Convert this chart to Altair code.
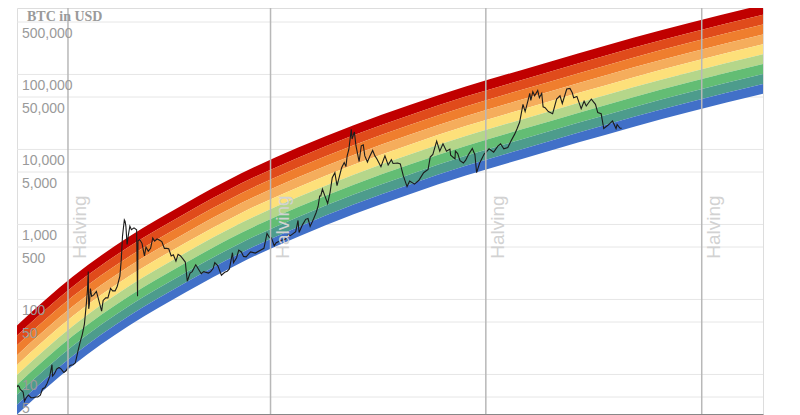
import altair as alt
import pandas as pd

# ---------------- data ----------------
btc_dates = [
    "2012-01-01", "2012-01-08", "2012-01-15", "2012-01-22", "2012-02-01", "2012-02-10", "2012-02-19",
    "2012-03-01", "2012-03-15", "2012-04-01", "2012-04-15", "2012-05-01", "2012-05-15", "2012-06-01",
    "2012-06-15", "2012-07-01", "2012-07-15", "2012-08-01", "2012-08-16", "2012-08-19", "2012-09-01",
    "2012-09-15", "2012-10-01", "2012-10-15", "2012-11-01", "2012-11-15", "2012-12-01", "2012-12-15",
    "2013-01-01", "2013-01-15", "2013-02-01", "2013-02-15", "2013-03-01", "2013-03-15", "2013-03-28",
    "2013-04-04", "2013-04-09", "2013-04-12", "2013-04-16", "2013-04-23", "2013-05-01", "2013-05-15",
    "2013-06-01", "2013-06-15", "2013-07-05", "2013-07-15", "2013-08-01", "2013-08-15", "2013-09-01",
    "2013-09-15", "2013-10-01", "2013-10-15", "2013-11-01", "2013-11-10", "2013-11-18", "2013-11-30",
    "2013-12-05", "2013-12-10", "2013-12-18", "2013-12-25",
    "2014-01-05", "2014-01-15", "2014-02-01", "2014-02-18", "2014-02-24", "2014-02-27", "2014-03-10",
    "2014-03-25", "2014-04-10", "2014-04-20", "2014-05-05", "2014-05-20", "2014-06-03", "2014-06-15",
    "2014-07-01", "2014-07-15", "2014-08-01", "2014-08-18", "2014-09-01", "2014-09-15", "2014-10-01",
    "2014-10-15", "2014-11-01", "2014-11-15", "2014-12-01", "2014-12-15",
    "2015-01-01", "2015-01-14", "2015-02-01", "2015-02-15", "2015-03-10", "2015-04-01", "2015-04-15",
    "2015-05-01", "2015-06-01", "2015-06-15", "2015-07-01", "2015-07-12", "2015-08-01", "2015-08-24",
    "2015-09-15", "2015-10-01", "2015-10-15", "2015-11-04", "2015-11-11", "2015-12-01", "2015-12-15",
    "2016-01-01", "2016-01-15", "2016-02-01", "2016-03-01", "2016-04-01", "2016-05-01", "2016-05-27",
    "2016-06-16", "2016-07-01", "2016-07-15", "2016-08-02", "2016-08-15", "2016-09-15", "2016-10-15",
    "2016-11-01", "2016-11-15", "2016-12-01", "2016-12-20",
    "2017-01-04", "2017-01-11", "2017-02-01", "2017-02-23", "2017-03-10", "2017-03-24", "2017-04-15",
    "2017-05-01", "2017-05-15", "2017-05-25", "2017-06-01", "2017-06-12", "2017-06-25", "2017-07-16",
    "2017-08-01", "2017-08-15", "2017-09-01", "2017-09-15", "2017-10-01", "2017-10-15", "2017-11-01",
    "2017-11-12", "2017-11-20", "2017-12-01", "2017-12-17", "2017-12-22",
    "2018-01-06", "2018-01-16", "2018-02-06", "2018-02-20", "2018-03-05", "2018-03-15", "2018-04-01",
    "2018-04-15", "2018-05-05", "2018-05-20", "2018-06-01", "2018-06-28", "2018-07-24", "2018-08-14",
    "2018-09-04", "2018-09-15", "2018-10-15", "2018-11-01", "2018-11-20", "2018-12-15",
    "2019-01-01", "2019-02-01", "2019-03-01", "2019-04-02", "2019-05-01", "2019-05-15", "2019-06-01",
    "2019-06-26", "2019-07-16", "2019-08-06", "2019-08-29", "2019-09-20", "2019-09-25", "2019-10-23",
    "2019-10-26", "2019-11-10", "2019-11-25", "2019-12-17",
    "2020-01-01", "2020-01-20", "2020-02-13", "2020-03-01", "2020-03-12", "2020-04-01", "2020-04-30",
    "2020-05-15", "2020-06-01", "2020-07-01", "2020-07-27", "2020-08-15", "2020-09-05", "2020-10-01",
    "2020-10-21", "2020-11-15", "2020-12-01", "2020-12-17",
    "2021-01-08", "2021-01-22", "2021-02-10", "2021-02-21", "2021-02-28", "2021-03-13", "2021-03-25",
    "2021-04-14", "2021-04-25", "2021-05-10", "2021-05-19", "2021-06-01", "2021-06-22", "2021-07-20",
    "2021-08-15", "2021-09-06", "2021-09-21", "2021-10-20", "2021-11-10", "2021-11-25", "2021-12-04",
    "2021-12-25",
    "2022-01-22", "2022-02-10", "2022-02-24", "2022-03-29", "2022-04-25", "2022-05-10", "2022-06-01",
    "2022-06-18", "2022-07-15", "2022-08-14", "2022-09-06", "2022-09-13", "2022-10-01", "2022-10-12",
]
btc_prices = [
    6.8, 7.1, 6.9, 6.3, 6.1, 5.8, 4.4,
    4.9, 5.3, 4.9, 4.9, 5.0, 5.0, 5.3,
    6.4, 6.7, 7.6, 9.4, 13.5, 9.5, 10.2,
    11.8, 12.4, 11.8, 10.6, 11.2, 12.6, 13.3,
    13.5, 14.3, 20.4, 27, 34, 47, 90,
    135, 235, 75, 85, 140, 110, 115,
    128, 100, 70, 97, 105, 105, 140,
    130, 130, 150, 205, 340, 700, 1150,
    1100, 950, 540, 700,
    950, 850, 900, 850, 110, 600, 630,
    560, 380, 500, 440, 480, 660, 600,
    640, 620, 590, 480, 480, 475, 380,
    395, 325, 400, 380, 350,
    315, 175, 225, 235, 290, 245, 220,
    235, 225, 235, 258, 310, 280, 210,
    230, 238, 255, 420, 310, 360, 455,
    430, 375, 370, 430, 415, 450, 480,
    760, 675, 660, 520, 570, 610, 640,
    730, 710, 750, 800,
    1130, 780, 980, 1170, 1200, 940, 1180,
    1420, 1750, 2400, 2400, 2950, 2500, 1900,
    2700, 4200, 4900, 3300, 4400, 5700, 6700,
    5900, 8200, 10000, 18500, 13800,
    17100, 11300, 6900, 11200, 11500, 8200, 6800,
    8000, 9700, 8200, 7500, 5900, 8200, 6200,
    7300, 6500, 6600, 6400, 4500, 3200,
    3800, 3450, 3850, 4900, 5400, 7900, 8600,
    12900, 9500, 11900, 9500, 10100, 8400, 7500,
    9500, 8800, 7100, 6600,
    7200, 8600, 10300, 8500, 4900, 6600, 8700,
    9300, 10200, 9200, 11000, 11900, 10200, 10600,
    12900, 16000, 19000, 23000,
    40000, 32000, 45000, 56000, 45000, 59000, 52000,
    61000, 49000, 56000, 37000, 36000, 32000, 30000,
    47000, 52000, 41000, 64000, 65000, 57000, 49000,
    51000,
    35000, 44000, 38000, 47000, 40000, 31000, 30000,
    19000, 21000, 24000, 19000, 21500, 19300, 19100,
]

halving_dates = ["2012-11-28", "2016-07-09", "2020-05-11", "2024-03-17"]

# top edge of the rainbow (USD) read at these dates
rainbow_dates = ["2012-01-01", "2013-01-01", "2014-01-01", "2015-01-01", "2016-01-01",
                 "2017-01-01", "2018-01-01", "2019-01-01", "2020-01-01", "2021-01-01",
                 "2022-01-01", "2023-01-01", "2024-01-01", "2025-04-20"]
rainbow_top = [45, 204, 690, 1900, 4800, 10500, 21000, 39000, 69000, 115000,
               190000, 310000, 490000, 850000]
# ratio between the top edge and each band boundary (top to bottom)
band_edges = [1, 1.36, 1.84, 2.49, 3.37, 4.57, 6.19, 8.39, 11.4, 15.4]
band_colors = ["#c00000", "#e04b1b", "#ef7e2e", "#f5ad5c", "#fde07a",
               "#b5d68a", "#63bd74", "#4d9c8c", "#4170c8"]

tick_values = [5, 10, 50, 100, 500, 1000, 5000, 10000, 50000, 100000, 500000]

# ---------------- tables ----------------
btc_df = pd.DataFrame({"date": btc_dates, "price": btc_prices})
halv_df = pd.DataFrame({"date": halving_dates})
grid_df = pd.DataFrame({"v": tick_values})
band_names = [f"b{i}" for i in range(len(band_colors))]
rows = []
for i, name in enumerate(band_names):
    for d, top in zip(rainbow_dates, rainbow_top):
        rows.append({"date": d, "band": name, "hi": top / band_edges[i], "lo": top / band_edges[i + 1]})
rb_df = pd.DataFrame(rows)
title_df = pd.DataFrame({"t": ["BTC in USD"]})

W, H = 746, 406
x_scale = alt.Scale(domain=[alt.DateTime(year=2012, month=1, date=1, utc=True),
                            alt.DateTime(year=2025, month=4, date=20, utc=True)])
y_scale = alt.Scale(type="log", domain=[2.97, 769000])

grid = alt.Chart(grid_df).mark_rule(color="#e6e6e6", strokeWidth=1).encode(
    y=alt.Y("v:Q", scale=y_scale, axis=None),
)

labels = alt.Chart(grid_df).mark_text(
    align="left", baseline="alphabetic", dy=16, fontSize=14, font="Liberation Sans",
    color="#9a9a9a",
).encode(
    y=alt.Y("v:Q", scale=y_scale, axis=None),
    x=alt.value(5),
    text=alt.Text("v:Q", format=",d"),
)

rainbow = alt.Chart(rb_df).mark_area(interpolate="monotone", clip=True).encode(
    x=alt.X("date:T", scale=x_scale,
            axis=alt.Axis(labels=False, ticks=False, grid=False, domainColor="#888888", title=None)),
    y=alt.Y("lo:Q", scale=y_scale, axis=None),
    y2="hi:Q",
    color=alt.Color("band:N", scale=alt.Scale(domain=band_names, range=band_colors), legend=None),
)

line = alt.Chart(btc_df).mark_line(color="#1c1c1c", strokeWidth=1.1, clip=True).encode(
    x=alt.X("date:T", scale=x_scale),
    y=alt.Y("price:Q", scale=y_scale, axis=None),
)

hrules = alt.Chart(halv_df).mark_rule(color="#b8b8b8", strokeWidth=1.5).encode(
    x=alt.X("date:T", scale=x_scale),
)

htext = alt.Chart(halv_df).mark_text(
    text="Halving", angle=270, fontSize=19, font="Liberation Sans", color="#d2d2d2",
    align="center", baseline="alphabetic", dy=18,
).encode(
    x=alt.X("date:T", scale=x_scale),
    y=alt.value(219),
)

title = alt.Chart(title_df).mark_text(
    font="Liberation Serif", fontWeight="bold", fontSize=14, color="#9a9a9a", align="left",
    baseline="alphabetic",
).encode(text="t:N", x=alt.value(10), y=alt.value(13))

chart = alt.layer(grid, rainbow, line, hrules, htext, labels, title).properties(
    width=W, height=H,
    autosize=alt.AutoSizeParams(type="none"),
    padding={"left": 9, "top": 0, "right": 20, "bottom": 1},
).configure_view(stroke="#dddddd", strokeWidth=1)

chart.save("out.html", embed_options={"renderer": "svg", "actions": False})
